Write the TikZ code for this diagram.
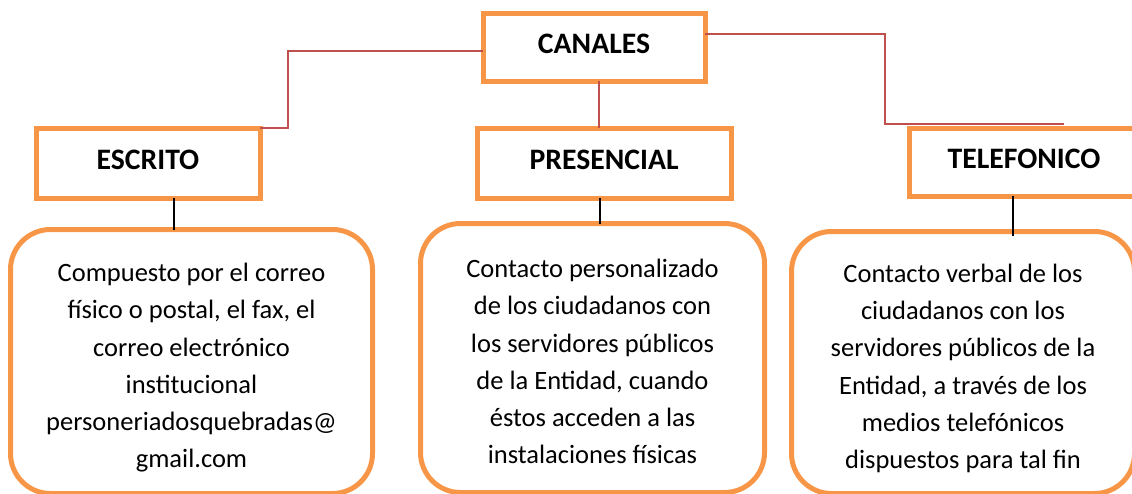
\documentclass[tikz,border=0pt]{standalone}
\usepackage{fontspec}
\setmainfont{Carlito}
\usepackage{tikz}
\usetikzlibrary{positioning}

\definecolor{naranja}{HTML}{F79646}
\definecolor{rojizo}{HTML}{C0504D}

\newcommand{\tope}[1]{\rule{0pt}{#1}}

\tikzset{
  canal/.style={draw=naranja, line width=5pt, inner sep=0pt, outer sep=0pt,
                text height=19pt, text depth=6pt,
                font=\fontsize{29.7}{31}\selectfont\bfseries},
  detalle/.style={draw=naranja, line width=5pt, rounded corners=40pt, inner sep=0pt,
                  outer sep=0pt, align=center, font=\fontsize{26.5}{37.3}\selectfont},
  enlace/.style={draw=rojizo, line width=1.5pt},
  trazo/.style={draw=black, line width=1.5pt}
}

\begin{document}
\begin{tikzpicture}[x=1pt,y=-1pt]

 \useasboundingbox (0,0) rectangle (1132,493);
 \clip (0,0) rectangle (1132,493);

 % las cajas de los canales
 \node [canal, minimum width=222pt, minimum height=68pt] (canales) at (594,47) {CANALES};
 \node [canal, minimum width=224pt, minimum height=70pt] (escrito) at (148,163) {ESCRITO};
 \node [canal, minimum width=254pt, minimum height=70pt] (presencial) at (604,163) {PRESENCIAL};
 \node [canal, minimum width=230pt, minimum height=68pt] (telefonico) at (1024,162) {TELEFONICO};

 % las descripciones
 \node [detalle, minimum width=362pt, minimum height=264pt] (escdesc) at (191.5,361.5)
   {\tope{31pt}Compuesto por el correo\\ físico o postal, el fax, el\\ correo electrónico\\ institucional\\ personeriadosquebradas@\\ gmail.com};
 \node [detalle, minimum width=344pt, minimum height=269pt] (presdesc) at (592.5,358)
   {\tope{25.5pt}Contacto personalizado\\ de los ciudadanos con\\ los servidores públicos\\ de la Entidad, cuando\\ éstos acceden a las\\ instalaciones físicas};
 \node [detalle, minimum width=343pt, minimum height=262pt] (teldesc) at (963,362.5)
   {\tope{30.5pt}Contacto verbal de los\\ ciudadanos con los\\ servidores públicos de la\\ Entidad, a través de los\\ medios telefónicos\\ dispuestos para tal fin};

 \coordinate (codo1) at (288,128);
 \coordinate (codo2) at (885,124);
 \coordinate (telfin) at (1064,124);

 \draw [enlace] ([yshift=-4pt]canales.west) -| (codo1) -- (escrito.north east);
 \draw [enlace] ([xshift=5pt]canales.south) -- ([xshift=5pt]canales.south |- presencial.north);
 \draw [enlace] ([yshift=13pt]canales.east) -| (codo2) -- (telfin);

 \draw [trazo] ([xshift=26pt]escrito.south) -- ([xshift=26pt]escrito.south |- escdesc.north);
 \draw [trazo] ([xshift=-4pt]presencial.south) -- ([xshift=-4pt]presencial.south |- presdesc.north);
 \draw [trazo] ([xshift=-11pt]telefonico.south) -- ([xshift=-11pt,yshift=-4pt]telefonico.south |- teldesc.north);

\end{tikzpicture}
\end{document}
